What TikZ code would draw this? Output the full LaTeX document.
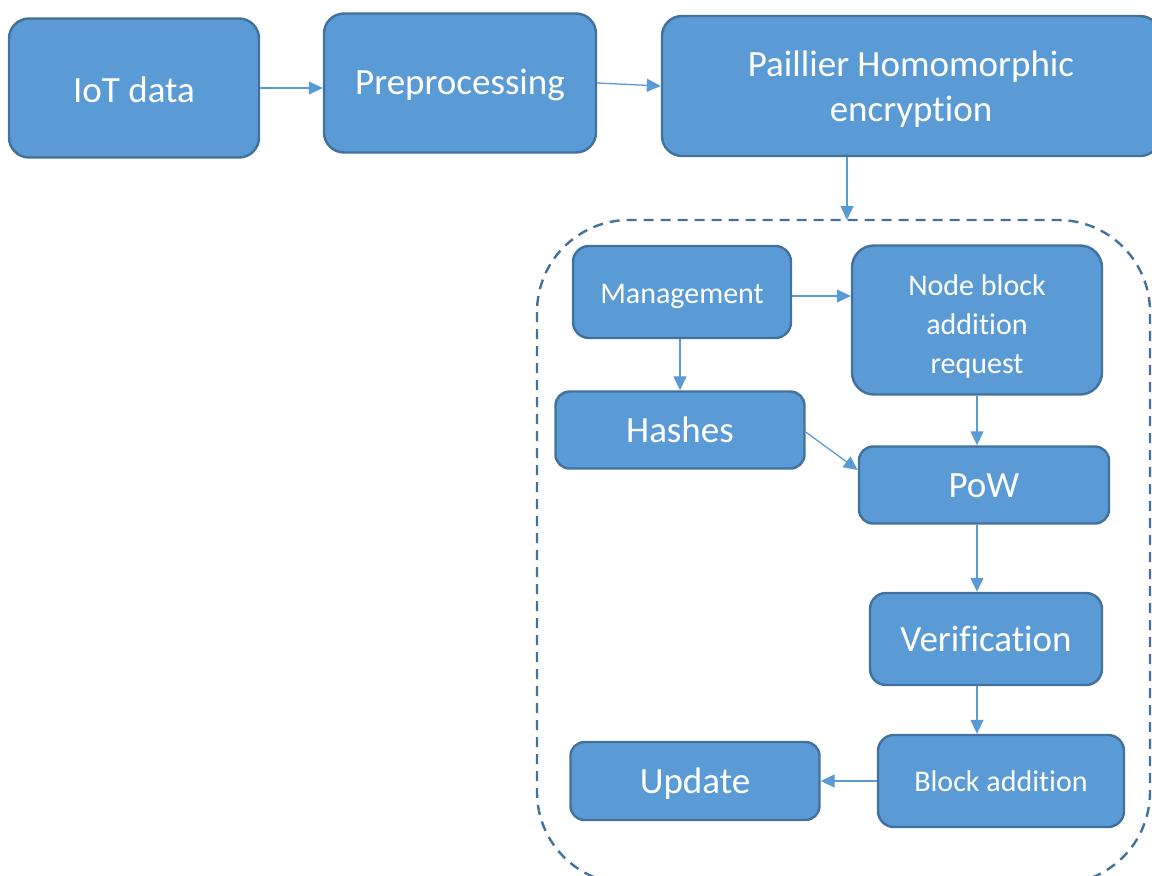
\documentclass[tikz,border=0pt]{standalone}
\usepackage{fontspec}
\setmainfont{Carlito}[Ligatures=NoCommon]
\usetikzlibrary{arrows.meta,calc}
\definecolor{boxfill}{HTML}{5B9BD5}
\definecolor{boxline}{HTML}{41719C}
\definecolor{arrowcol}{HTML}{5B9BD5}
\tikzset{
  procbox/.style={draw=boxline, fill=boxfill, line width=2.4pt, rounded corners=#1,
    text=white, align=center, inner sep=0pt},
  procbox/.default=20pt,
  bigtext/.style={font=\fontsize{37}{45}\selectfont},
  smalltext/.style={font=\fontsize{30}{39}\selectfont},
  inlabel/.style={text=white, align=center, inner sep=0pt},
  flow/.style={draw=arrowcol, line width=1.3pt, -{Triangle[length=14pt,width=13pt]}},
  frame/.style={draw=boxline, line width=2.4pt, dash pattern=on 10pt off 7pt, rounded corners=92pt}
}
\begin{document}
\begin{tikzpicture}[x=1pt,y=-1pt]
\useasboundingbox (0,0) rectangle (1152,876);

% top row
\node[procbox, minimum width=250pt, minimum height=139pt,
      label={[inlabel, bigtext, yshift=-1.5pt]center:IoT data}] (iot) at (134,88) {};
\node[procbox, minimum width=272pt, minimum height=139pt,
      label={[inlabel, bigtext, yshift=-2pt]center:Preprocessing}] (pre) at (460,83) {};
\node[procbox, minimum width=498pt, minimum height=140pt,
      label={[inlabel, bigtext, yshift=-3pt]center:Paillier Homomorphic\\encryption}] (pai) at (911,86) {};

% blockchain frame
\draw[frame] (537,220) rectangle (1150,884);
\coordinate (drop) at (847,220);

% inner steps
\node[procbox=16pt, minimum width=218pt, minimum height=92pt,
      label={[inlabel, smalltext, yshift=-4pt]center:Management}] (mgmt) at (682,292) {};
\node[procbox=22pt, minimum width=250pt, minimum height=149pt,
      label={[inlabel, smalltext, yshift=-6pt]center:Node block\\addition\\request}] (nbr) at (977,320) {};
\node[procbox=14pt, minimum width=249pt, minimum height=77pt,
      label={[inlabel, bigtext]center:Hashes}] (hash) at (680,430) {};
\node[procbox=14pt, minimum width=250pt, minimum height=77pt,
      label={[inlabel, bigtext, yshift=-1pt]center:PoW}] (pow) at (984,485) {};
\node[procbox=16pt, minimum width=232pt, minimum height=92pt,
      label={[inlabel, bigtext]center:Verification}] (ver) at (986,639) {};
\node[procbox=16pt, minimum width=246pt, minimum height=92pt,
      label={[inlabel, smalltext]center:Block addition}] (blk) at (1001,781) {};
\node[procbox=14pt, minimum width=249pt, minimum height=78pt,
      label={[inlabel, bigtext, yshift=-3pt]center:Update}] (upd) at (695,781) {};

% connectors
\draw[flow] (iot.east) -- (pre.west |- iot.east);
\draw[flow] (pre.east) -- (pai.west);
\draw[flow] (pai.south -| drop) -- (drop);
\draw[flow] ([yshift=-4pt]mgmt.east) -- ([yshift=-4pt]nbr.west |- mgmt.east);
\draw[flow] (mgmt.south -| hash.north) -- (hash.north);
\draw[flow] ([yshift=-2pt]hash.east) -- ([yshift=15pt]pow.west);
\draw[flow] (nbr.south) -- (nbr.south |- pow.north);
\draw[flow] (pow.south -| nbr.south) -- (ver.north -| nbr.south);
\draw[flow] (ver.south -| nbr.south) -- (blk.north -| nbr.south);
\draw[flow] (blk.west) -- (upd.east);
\end{tikzpicture}
\end{document}
